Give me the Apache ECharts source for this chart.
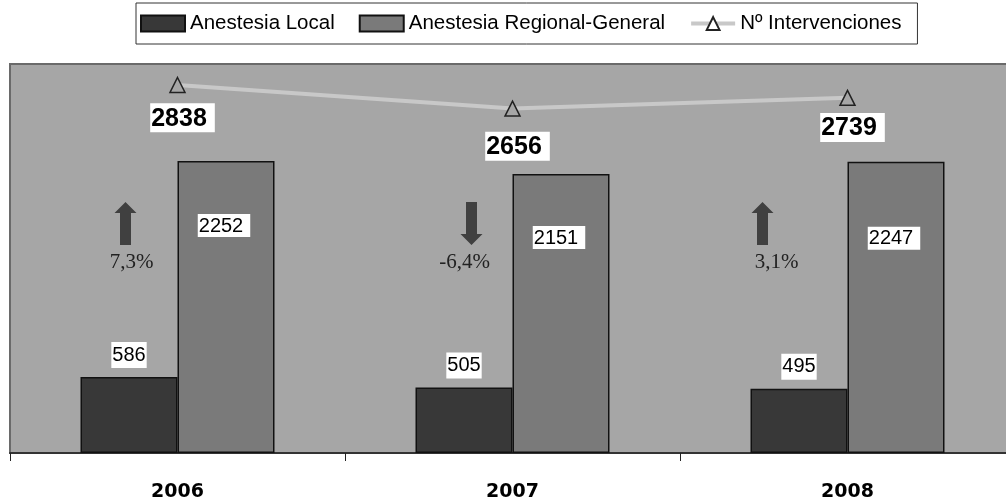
<!DOCTYPE html>
<html>
<head>
<meta charset="utf-8">
<script src="https://cdn.jsdelivr.net/npm/echarts@6/dist/echarts.min.js"></script>
<style>
  html, body { margin: 0; padding: 0; background: #fff; width: 1006px; height: 504px; overflow: hidden; }
  /* canvas runs a little past the right edge so the plot area is cut off there */
  #chart { width: 1015px; height: 504px; }
</style>
</head>
<body>
<div id="chart"></div>
<script>
// Surgical activity by year
const years = ['2006', '2007', '2008'];
const anestesiaLocal = [586, 505, 495];
const anestesiaRegional = [2252, 2151, 2247];
const intervenciones = [2838, 2656, 2739];
const variacion = [7.3, -6.4, 3.1];   // % change in total interventions

// Layout tweaks for annotations (pixels)
const regionalLabelDist = [53, 52, 65];
const totalLabelDist = [10, 15, 7];
const arrowShift = [-52, -41, -85];
const pctShift = [-46, -48, -71];

const fmtPct = v => String(v).replace('.', ',') + '%';

const chart = echarts.init(document.getElementById('chart'), null, { renderer: 'canvas' });

const sansFont = 'Liberation Sans';

chart.setOption({
  backgroundColor: '#ffffff',
  animation: false,
  legend: {
    data: [
      { name: 'Anestesia Local', icon: 'rect' },
      { name: 'Anestesia Regional-General', icon: 'rect' },
      {
        name: 'Nº Intervenciones',
        itemStyle: { color: '#ffffff' },
        lineStyle: { width: 4, color: '#c8c8c8' }
      }
    ],
    left: 136,
    top: 3,
    padding: [10, 16, 10, 4],
    itemWidth: 44,
    itemHeight: 16,
    itemGap: 24,
    borderColor: '#333',
    borderWidth: 1,
    backgroundColor: '#fff',
    textStyle: { fontFamily: sansFont, fontSize: 20.5, color: '#000' }
  },
  grid: {
    left: 10,
    top: 64,
    right: 0,
    bottom: 51,
    show: true,
    backgroundColor: '#a6a6a6',
    borderColor: '#6a6a6a',
    borderWidth: 2
  },
  xAxis: {
    type: 'category',
    data: years,
    axisLine: { lineStyle: { color: '#333', width: 2 } },
    axisTick: { show: true, length: 8, lineStyle: { color: '#222', width: 1 } },
    axisLabel: {
      margin: 30,
      fontFamily: 'DejaVu Sans',
      fontWeight: 'bold',
      fontSize: 19,
      color: '#000'
    }
  },
  yAxis: {
    type: 'value',
    min: 0,
    max: 3000,
    show: false,
    splitLine: { show: false }
  },
  series: [
    {
      name: 'Anestesia Local',
      type: 'bar',
      data: anestesiaLocal,
      barWidth: 97,
      barGap: '0%',
      itemStyle: { color: '#383838', borderColor: '#111', borderWidth: 1.5 },
      label: {
        show: true,
        position: 'top',
        distance: 9,
        fontFamily: sansFont,
        fontSize: 20,
        color: '#000',
        backgroundColor: '#fff',
        padding: [3, 1, 3, 1]
      }
    },
    {
      name: 'Anestesia Regional-General',
      type: 'bar',
      data: anestesiaRegional.map((v, i) => ({
        value: v,
        label: { distance: regionalLabelDist[i] }
      })),
      barWidth: 97,
      barGap: '0%',
      itemStyle: { color: '#7a7a7a', borderColor: '#111', borderWidth: 1.5 },
      label: {
        show: true,
        position: 'insideTop',
        offset: [-2, 0],
        fontFamily: sansFont,
        fontSize: 20,
        color: '#000',
        backgroundColor: '#fff',
        padding: [2, 7, 1, 1]
      }
    },
    {
      name: 'Nº Intervenciones',
      type: 'line',
      data: intervenciones.map((v, i) => ({
        value: v,
        label: { distance: totalLabelDist[i] }
      })),
      symbol: 'triangle',
      symbolSize: 15,
      lineStyle: { color: '#c8c8c8', width: 4 },
      itemStyle: { color: '#a6a6a6', borderColor: '#222', borderWidth: 1.5 },
      z: 5,
      label: {
        show: true,
        position: 'bottom',
        offset: [5, 0],
        fontFamily: sansFont,
        fontWeight: 'bold',
        fontSize: 25,
        color: '#000',
        backgroundColor: '#fff',
        padding: [3, 8, 1, 1]
      }
    },
    {
      name: 'variacion',
      type: 'custom',
      data: variacion.map((g, i) => [i, g]),
      encode: { x: 0, y: 1 },
      z: 6,
      renderItem: function (params, api) {
        const idx = params.dataIndex;
        const g = variacion[idx];
        const base = api.coord([api.value(0), 0]);
        const ax = base[0] + arrowShift[idx];
        const top = base[1] - 251;
        const bot = base[1] - 208;
        const hw = 11, sw = 5.5, hh = 11;
        let pts;
        if (g >= 0) {
          pts = [[ax, top], [ax + hw, top + hh], [ax + sw, top + hh], [ax + sw, bot],
                 [ax - sw, bot], [ax - sw, top + hh], [ax - hw, top + hh]];
        } else {
          pts = [[ax, bot], [ax + hw, bot - hh], [ax + sw, bot - hh], [ax + sw, top],
                 [ax - sw, top], [ax - sw, bot - hh], [ax - hw, bot - hh]];
        }
        return {
          type: 'group',
          children: [
            { type: 'polygon', shape: { points: pts }, style: { fill: '#404040' } },
            {
              type: 'text',
              x: base[0] + pctShift[idx],
              y: base[1] - 191,
              style: {
                text: fmtPct(g),
                fontFamily: 'Liberation Serif',
                fontSize: 21,
                fill: '#222',
                align: 'center',
                verticalAlign: 'middle'
              }
            }
          ]
        };
      }
    }
  ]
});
</script>
</body>
</html>
